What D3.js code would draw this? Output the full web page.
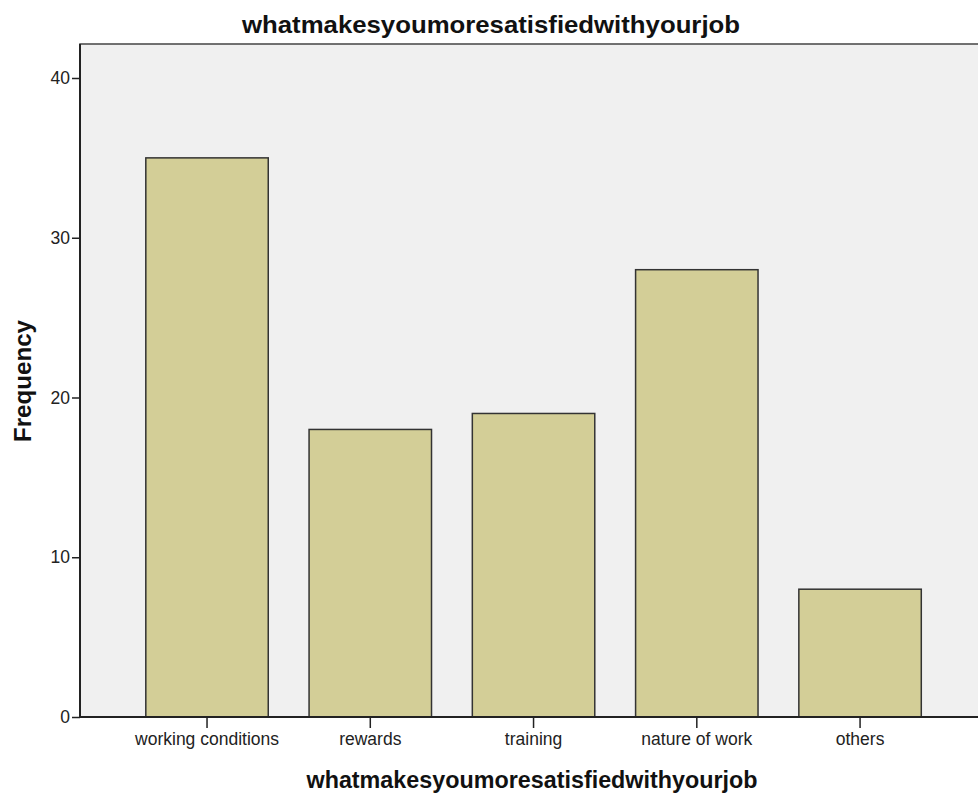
<!DOCTYPE html>
<meta charset="utf-8">
<style>
body { margin: 0; background: #fff; }
text { font-family: "Liberation Sans", Arial, sans-serif; fill: #000; }
.title { font-weight: bold; fill: #111; }
.tick text { font-size: 17.5px; fill: #222; }
.bar { fill: #d3ce97; stroke: #333; stroke-width: 1.5; }
</style>
<body></body>
<script src="https://d3js.org/d3.v7.min.js"></script>
<script>
var categories = ["working conditions", "rewards", "training", "nature of work", "others"];
var frequency = [35, 18, 19, 28, 8];
var yTicks = [0, 10, 20, 30, 40];
var chartTitle = "whatmakesyoumoresatisfiedwithyourjob";

var W = 978, H = 793;
var plotLeft = 80, plotTop = 44, plotRight = 980, plotBottom = 717;

var svg = d3.select("body").append("svg")
    .attr("width", W)
    .attr("height", H);

var x = d3.scaleBand()
    .domain(categories)
    .range([125.4, 941.7])
    .paddingInner(0.25)
    .paddingOuter(0.125);

var y = d3.scaleLinear()
    .domain([0, 40])
    .range([plotBottom, 78]);

// plot background
svg.append("rect")
    .attr("x", plotLeft).attr("y", plotTop)
    .attr("width", plotRight - plotLeft).attr("height", plotBottom - plotTop)
    .attr("fill", "#f0f0f0")
    .attr("stroke", "#444").attr("stroke-width", 1.5);

svg.selectAll(".bar")
    .data(frequency)
  .enter().append("rect")
    .attr("class", "bar")
    .attr("x", function(d, i) { return x(categories[i]); })
    .attr("y", function(d) { return y(d); })
    .attr("width", x.bandwidth())
    .attr("height", function(d) { return y(0) - y(d); });

// y axis
var yAxis = svg.append("g")
    .attr("transform", "translate(" + plotLeft + ",0)")
    .call(d3.axisLeft(y).tickValues(yTicks).tickSize(8).tickPadding(2));
yAxis.select(".domain").remove();
yAxis.selectAll("line").attr("stroke", "#222").attr("stroke-width", 1.5);

// x axis
var xAxis = svg.append("g")
    .attr("transform", "translate(0," + plotBottom + ")")
    .call(d3.axisBottom(x).tickSize(11).tickPadding(5));
xAxis.select(".domain").remove();
xAxis.selectAll("line").attr("stroke", "#222").attr("stroke-width", 1.5);

// axis lines drawn over
svg.append("line")
    .attr("x1", plotLeft).attr("x2", plotRight)
    .attr("y1", plotBottom).attr("y2", plotBottom)
    .attr("stroke", "#222").attr("stroke-width", 2);
svg.append("line")
    .attr("x1", plotLeft).attr("x2", plotLeft)
    .attr("y1", plotTop).attr("y2", plotBottom)
    .attr("stroke", "#222").attr("stroke-width", 2);

svg.append("text")
    .attr("class", "title")
    .attr("x", 491).attr("y", 33)
    .attr("text-anchor", "middle")
    .style("font-size", "24px")
    .attr("textLength", 498)
    .attr("lengthAdjust", "spacingAndGlyphs")
    .text(chartTitle);

svg.append("text")
    .attr("class", "title")
    .attr("x", 532).attr("y", 788)
    .attr("text-anchor", "middle")
    .style("font-size", "23px")
    .attr("textLength", 451)
    .attr("lengthAdjust", "spacingAndGlyphs")
    .text(chartTitle);

svg.append("text")
    .attr("class", "title")
    .attr("transform", "translate(31,381) rotate(-90)")
    .attr("text-anchor", "middle")
    .style("font-size", "23px")
    .attr("textLength", 122)
    .attr("lengthAdjust", "spacingAndGlyphs")
    .text("Frequency");
</script>
